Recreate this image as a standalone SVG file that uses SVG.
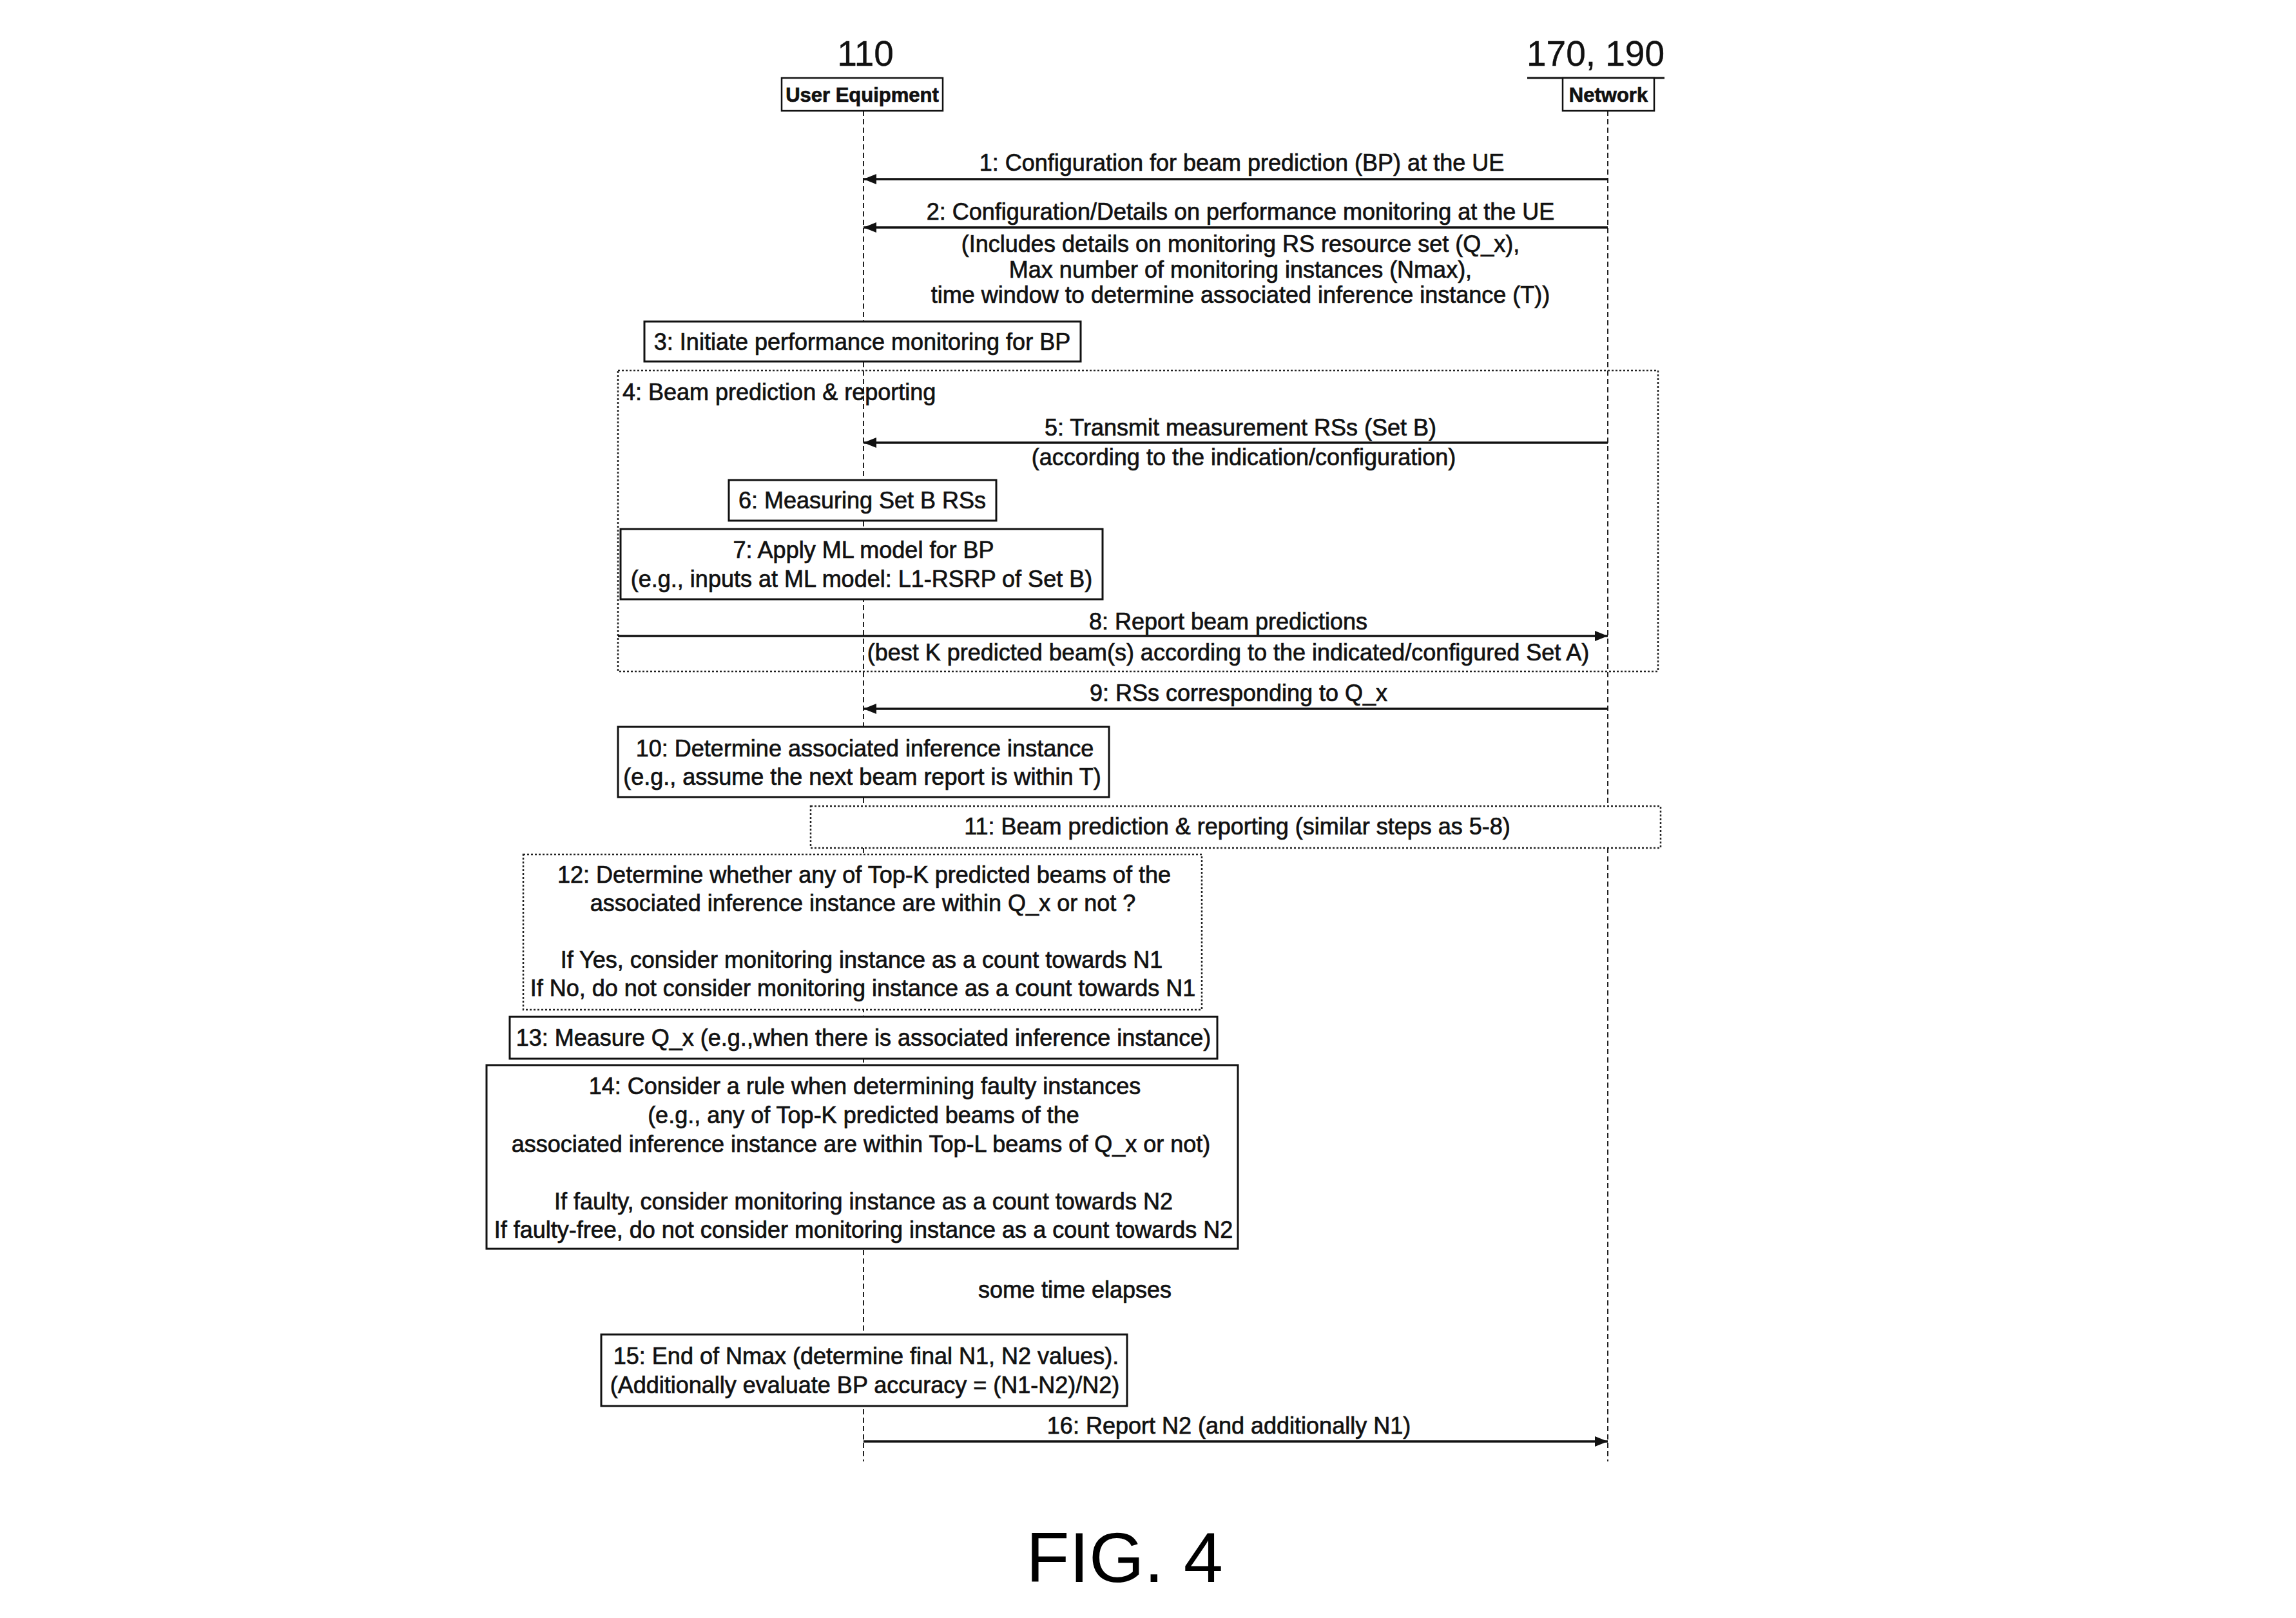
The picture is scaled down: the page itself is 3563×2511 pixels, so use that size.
<svg xmlns="http://www.w3.org/2000/svg" width="3563" height="2511" viewBox="0 0 3563 2511">
<style>
.t{font-family:"Liberation Sans",Arial,sans-serif;font-size:36px;fill:#111;stroke:#111;stroke-width:0.7}
.c{text-anchor:middle}
.hdr{font-size:55px;stroke-width:0.4}
.b{font-weight:bold;font-size:31px}
.fig{font-size:110px;fill:#000;stroke:none}
.box{fill:#fff;stroke:#111;stroke-width:3}
.dbox{fill:none;stroke:#222;stroke-width:2.5;stroke-dasharray:3 3}
.dboxw{fill:#fff;stroke:#222;stroke-width:2.5;stroke-dasharray:3 3}
.life{stroke:#222;stroke-width:2;stroke-dasharray:8 5;fill:none}
.msg{stroke:#111;stroke-width:3.5;fill:none}
.hl{stroke:#111;stroke-width:3;fill:none}
</style>
<defs>
<marker id="ah" markerUnits="userSpaceOnUse" markerWidth="20" markerHeight="16" refX="20" refY="8" orient="auto">
<path d="M0,0 L20,8 L0,16 z" fill="#111"/>
</marker>
</defs>
<rect width="3563" height="2511" fill="#fff"/>

<g id="lifelines">
<line class="life" x1="1340" y1="172" x2="1340" y2="2268"/>
<line class="life" x1="2495" y1="172" x2="2495" y2="2268"/>
</g>

<g id="ue">
<text class="t c hdr" x="1343" y="102">110</text>
<rect class="box" x="1213" y="121" width="250" height="51" style="stroke-width:2.5"/>
<text class="t c b" x="1338" y="158">User Equipment</text>
</g>
<g id="network">
<text class="t c hdr" x="2476" y="102">170, 190</text>
<line class="hl" x1="2370" y1="121" x2="2583" y2="121"/>
<rect class="box" x="2425" y="121" width="142" height="51" style="stroke-width:2.5"/>
<text class="t c b" x="2496" y="158">Network</text>
</g>

<g id="group4">
<rect class="dbox" x="959" y="575" width="1614" height="467"/>
<text class="t" x="966" y="621">4: Beam prediction &amp; reporting</text>
</g>

<g id="connectors">
<line class="msg" x1="2495" y1="278" x2="1340" y2="278" marker-end="url(#ah)"/>
<line class="msg" x1="2495" y1="353" x2="1340" y2="353" marker-end="url(#ah)"/>
<line class="msg" x1="2495" y1="687" x2="1340" y2="687" marker-end="url(#ah)"/>
<line class="msg" x1="959" y1="987" x2="2495" y2="987" marker-end="url(#ah)"/>
<line class="msg" x1="2495" y1="1100" x2="1340" y2="1100" marker-end="url(#ah)"/>
<line class="msg" x1="1340" y1="2237" x2="2495" y2="2237" marker-end="url(#ah)"/>
</g>

<g id="labels">
<text class="t c" x="1927" y="265">1:  Configuration for beam prediction (BP) at the UE</text>
<text class="t c" x="1925" y="341">2:  Configuration/Details on performance monitoring at the UE</text>
<text class="t c" x="1925" y="391">(Includes details on monitoring RS resource set (Q_x),</text>
<text class="t c" x="1925" y="431">Max number of monitoring instances (Nmax),</text>
<text class="t c" x="1925" y="470">time window to determine associated inference instance (T))</text>
<text class="t c" x="1925" y="676">5:  Transmit measurement RSs (Set B)</text>
<text class="t c" x="1930" y="722">(according to the indication/configuration)</text>
<text class="t c" x="1906" y="977">8:  Report beam predictions</text>
<text class="t c" x="1906" y="1025">(best K predicted beam(s) according to the indicated/configured Set A)</text>
<text class="t c" x="1922" y="1088">9:  RSs corresponding to Q_x</text>
<text class="t c" x="1668" y="2014">some time elapses</text>
<text class="t c" x="1907" y="2225">16:  Report N2 (and additionally N1)</text>
</g>

<g id="step3">
<rect class="box" x="1000" y="499" width="677" height="62"/>
<text class="t c" x="1338" y="543">3:  Initiate performance monitoring for BP</text>
</g>
<g id="step6">
<rect class="box" x="1131" y="745" width="415" height="63"/>
<text class="t c" x="1338" y="789">6:  Measuring Set B RSs</text>
</g>
<g id="step7">
<rect class="box" x="963" y="821" width="748" height="109"/>
<text class="t c" x="1340" y="866">7: Apply ML model for BP</text>
<text class="t c" x="1337" y="911">(e.g., inputs at ML model: L1-RSRP of Set B)</text>
</g>
<g id="step10">
<rect class="box" x="959" y="1128" width="762" height="109"/>
<text class="t c" x="1342" y="1174">10: Determine associated inference instance</text>
<text class="t c" x="1338" y="1218">(e.g., assume the next beam report is within T)</text>
</g>
<g id="step11">
<rect class="dboxw" x="1258" y="1251" width="1319" height="65"/>
<text class="t c" x="1920" y="1295">11: Beam prediction &amp; reporting (similar steps as 5-8)</text>
</g>
<g id="step12">
<rect class="dboxw" x="812" y="1326" width="1053" height="241"/>
<text class="t c" x="1341" y="1370">12: Determine whether any of Top-K predicted beams of the</text>
<text class="t c" x="1339" y="1414">associated inference instance are within Q_x or not ?</text>
<text class="t c" x="1337" y="1502">If Yes, consider monitoring instance as a count towards N1</text>
<text class="t c" x="1339" y="1546">If No, do not consider monitoring instance as a count towards N1</text>
</g>
<g id="step13">
<rect class="box" x="791" y="1578" width="1098" height="65"/>
<text class="t c" x="1340" y="1623">13: Measure Q_x (e.g.,when there is associated inference instance)</text>
</g>
<g id="step14">
<rect class="box" x="755" y="1653" width="1166" height="285"/>
<text class="t c" x="1342" y="1698">14: Consider a rule when determining faulty instances</text>
<text class="t c" x="1340" y="1743">(e.g., any of Top-K predicted beams of the</text>
<text class="t c" x="1336" y="1788">associated inference instance are within Top-L beams of Q_x or not)</text>
<text class="t c" x="1340" y="1877">If faulty, consider monitoring instance as a count towards N2</text>
<text class="t c" x="1340" y="1921">If faulty-free, do not consider monitoring instance as a count towards N2</text>
</g>
<g id="step15">
<rect class="box" x="933" y="2071" width="816" height="111"/>
<text class="t c" x="1344" y="2117">15: End of Nmax (determine final N1, N2 values).</text>
<text class="t c" x="1342" y="2162">(Additionally evaluate BP accuracy = (N1-N2)/N2)</text>
</g>

<text class="t c fig" x="1745" y="2455">FIG. 4</text>
</svg>
